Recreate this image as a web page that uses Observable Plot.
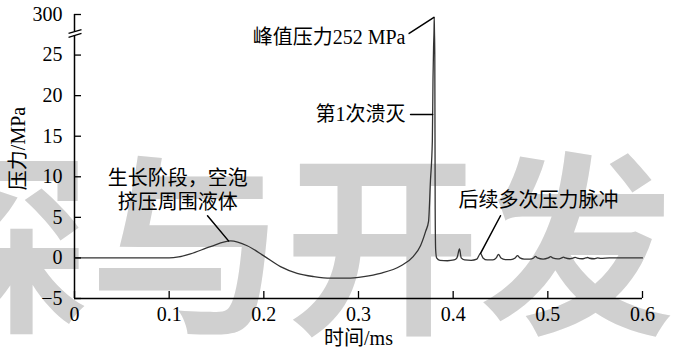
<!DOCTYPE html>
<html>
<head>
<meta charset="utf-8">
<script src="https://cdn.jsdelivr.net/npm/d3@7"></script>
<script src="https://cdn.jsdelivr.net/npm/@observablehq/plot@0.6"></script>
<style>
  html, body { margin: 0; padding: 0; background: #fff; overflow: hidden; }
  #chart svg text { font-family: "Liberation Serif", "Noto Sans CJK SC", serif !important; }
</style>
</head>
<body>
<div id="chart"></div>
<script>
// Bubble-wall pressure history during growth and collapse of a cavitation bubble
const times = [
  0, 0.05, 0.1, 0.11, 0.1225, 0.1437, 0.165, 0.1824, 0.2, 0.2176, 0.2352, 0.2528,
  0.2704, 0.288, 0.3056, 0.3232, 0.3444, 0.358, 0.3655, 0.371, 0.374, 0.376, 0.378,
  0.3787, 0.3793, 0.3798, 0.38, 0.3802, 0.3806, 0.381, 0.3815, 0.3825, 0.386, 0.394,
  0.401, 0.404, 0.4067, 0.4085, 0.412, 0.419, 0.425, 0.4289, 0.4315, 0.436, 0.442,
  0.4455, 0.4479, 0.4505, 0.455, 0.461, 0.4655, 0.468, 0.4705, 0.475, 0.481, 0.485,
  0.487, 0.489, 0.495, 0.5005, 0.503, 0.505, 0.5105, 0.5145, 0.5165, 0.5185, 0.523,
  0.527, 0.529, 0.531, 0.536, 0.54, 0.542, 0.544, 0.549, 0.5525, 0.556, 0.565, 0.6
];
const pressures = [
  0, 0, 0, 0.12, 0.5, 1.4, 2.1, 1.5, 0.25, -1.07, -1.9, -2.3,
  -2.5, -2.5, -2.3, -1.9, -1.0, 0.2, 1.5, 3.3, 4.5, 9.5, 14.4,
  22, 40, 120, 252, 120, 25, 6, 1.0, 0, -0.3, -0.35,
  -0.25, 0, 1.1, 0, -0.25, -0.3, -0.15, 0.55, 0, -0.25, -0.25,
  0, 0.45, 0, -0.2, -0.2, 0, 0.28, 0, -0.15, -0.15, 0,
  0.2, 0, -0.15, 0, 0.15, 0, -0.12, 0, 0.1, 0, -0.1,
  0, 0.08, -0.02, -0.1, 0, 0.05, -0.04, -0.1, 0, -0.05, 0, 0
];
const peakPressure = 252;

const yTickValues = [-5, 0, 5, 10, 15, 20, 25, 300];
const xTickValues = [0, 0.1, 0.2, 0.3, 0.4, 0.5, 0.6];

// Broken y axis: linear up to 25 MPa, the span 25–300 MPa squeezed into the top band
const breakStart = 25, axisMax = 300, bandHeight = 5;
const yPos = p => p <= breakStart ? p : breakStart + bandHeight * Math.log(p / breakStart) / Math.log(axisMax / breakStart);
const yTop = yPos(axisMax);
const gapLow = 27.41, gapHigh = 27.9;

const series = times.map((t, i) => ({t, y: yPos(pressures[i])}));
const yTickPos = yTickValues.map(yPos);
const fmtY = d => {
  let best = 0;
  yTickPos.forEach((p, i) => { if (Math.abs(p - d) < Math.abs(yTickPos[best] - d)) best = i; });
  const v = yTickValues[best];
  return v < 0 ? "\u2212" + Math.abs(v) : String(v);
};

// Annotation callouts, grouped by text alignment
const notesMiddle = [{text: "生长阶段，空泡\n挤压周围液体", x: 0.109, y: 8.4}];
const notesEnd = [
  {text: "峰值压力252 MPa", x: 0.3496, y: 27.17},
  {text: "第1次溃灭", x: 0.3496, y: 17.68}
];
const notesStart = [{text: "后续多次压力脉冲", x: 0.4056, y: 7.07}];
// leader lines: [time, position] at the label end and at the curve end
const leaderFrom = [[0.1405, 5.2], [0.3535, 27.66], [0.355, 17.68], [0.45, 5.2]];
const leaderTo = [[0.1627, 2.1], [0.3797, yPos(peakPressure)], [0.3783, 17.68], [0.4289, 0.55]];
const breakMarks = [
  {x1: -0.0063, y1: 27.66, x2: 0.0074, y2: 28.15},
  {x1: -0.0063, y1: 27.17, x2: 0.0074, y2: 27.66}
];

const serif = '"Liberation Serif", "Noto Sans CJK SC", serif';
const txt = {fontSize: 20, fontFamily: serif, fill: "#000"};

const leaderMarks = leaderFrom.map((a, i) =>
  Plot.line([a, leaderTo[i]], {x: d => d[0], y: d => d[1], stroke: "#000", strokeWidth: 1.5})
);

const chart = Plot.plot({
  width: 674,
  height: 353,
  marginLeft: 74,
  marginRight: 32,
  marginTop: 14,
  marginBottom: 55,
  style: {fontFamily: serif, fontSize: "20px", background: "#fff", color: "#000"},
  x: {domain: [0, 0.6]},
  y: {domain: [-5, yTop]},
  marks: [
    // background watermark
    Plot.text(["探与开发"], {
      frameAnchor: "top-left", dx: -180, dy: 166, textAnchor: "start", lineAnchor: "top",
      fontSize: 195, fontWeight: 700, fill: "#d0d0d0"
    }),
    // axis lines, y split at the break
    Plot.ruleX([0], {y1: -5, y2: gapLow, strokeWidth: 1.5}),
    Plot.ruleX([0], {y1: gapHigh, y2: yTop, strokeWidth: 1.5}),
    Plot.ruleY([-5], {x1: 0, x2: 0.6, strokeWidth: 1.5}),
    Plot.link(breakMarks, {x1: "x1", y1: "y1", x2: "x2", y2: "y2", stroke: "#000", strokeWidth: 1.3}),
    // pressure curve
    Plot.line(series, {x: "t", y: "y", curve: "monotone-x", stroke: "#333", strokeWidth: 1.3}),
    // callouts
    ...leaderMarks,
    Plot.text(notesMiddle, {x: "x", y: "y", text: "text", textAnchor: "middle", lineHeight: 1.2, ...txt}),
    Plot.text(notesEnd, {x: "x", y: "y", text: "text", textAnchor: "end", ...txt}),
    Plot.text(notesStart, {x: "x", y: "y", text: "text", textAnchor: "start", ...txt}),
    // axes
    Plot.axisY({ticks: yTickPos, tickFormat: fmtY, tickSize: 7, dx: 7, tickPadding: 12, label: null, fontSize: 20, fontFamily: serif, strokeWidth: 1.3}),
    Plot.axisX({ticks: xTickValues, tickFormat: d => String(d), tickSize: 7, dy: -7, tickPadding: 8, label: null, fontSize: 20, fontFamily: serif, strokeWidth: 1.3}),
    Plot.text(["压力/MPa"], {frameAnchor: "left", dx: -56, dy: -8, rotate: -90, textAnchor: "middle", lineAnchor: "middle", ...txt}),
    Plot.text(["时间/ms"], {frameAnchor: "bottom", dy: 40, textAnchor: "middle", lineAnchor: "middle", ...txt})
  ]
});
document.getElementById("chart").appendChild(chart);
</script>
</body>
</html>
